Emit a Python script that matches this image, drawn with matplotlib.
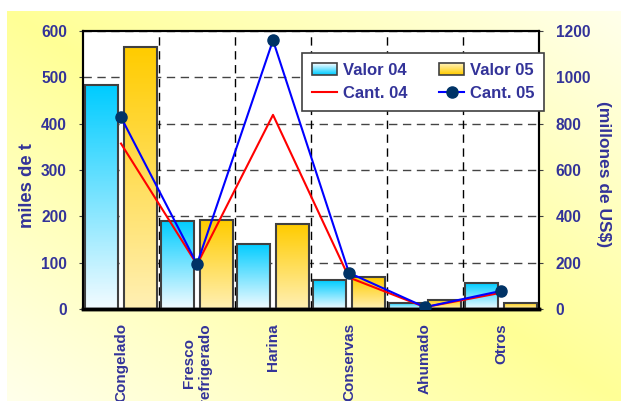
import numpy as np
import matplotlib.pyplot as plt
from matplotlib.colors import LinearSegmentedColormap
from matplotlib.patches import Patch, Rectangle
from matplotlib.lines import Line2D
from matplotlib.legend_handler import HandlerBase

# data
categories = ['Congelado', 'Fresco\nrefrigerado', 'Harina', 'Conservas', 'Ahumado', 'Otros']
valor_04 = [965, 380, 282, 124, 27, 111]     # millones de US$
valor_05 = [1130, 384, 366, 137, 40, 27]
cant_04 = [357, 96, 419, 68, 4, 35]          # miles de t
cant_05 = [414, 97, 580, 78, 4, 39]
left_ticks = [0, 100, 200, 300, 400, 500, 600]
right_ticks = [0, 200, 400, 600, 800, 1000, 1200]

TXT = '#333399'
plt.rcParams['font.family'] = ['Liberation Sans', 'DejaVu Sans']
plt.rcParams['font.weight'] = 'bold'


class GradientHandler(HandlerBase):
    # legend box filled with the same vertical gradient as the bars
    def __init__(self, cmap):
        super().__init__()
        self.cmap = cmap

    def create_artists(self, legend, orig_handle, xdescent, ydescent, width, height, fontsize, trans):
        arts = []
        n = 12
        for i in range(n):
            arts.append(Rectangle((-xdescent, -ydescent + height * i / n), width, height / n,
                                  facecolor=self.cmap(1 - i / (n - 1)), edgecolor='none', transform=trans))
        arts.append(Rectangle((-xdescent, -ydescent), width, height, facecolor='none',
                              edgecolor='#404040', lw=1.2, transform=trans))
        return arts


W, H = 621, 401
fig = plt.figure(figsize=(W / 100, H / 100), dpi=100)

# yellow diagonal gradient background
bg = fig.add_axes([0, 0, 1, 1], zorder=0)
bg.set_xlim(0, W)
bg.set_ylim(0, H)
bg.axis('off')
gx, gy = np.meshgrid(np.linspace(0, 1, 200), np.linspace(0, 1, 200))
t = np.abs(gx - gy)[..., None]
yellow = np.array([255, 255, 150]) / 255
pale = np.array([255, 255, 235]) / 255
bg.imshow(yellow * (1 - t) + pale * t, extent=[7, W, 0, H - 11], aspect='auto', origin='upper')

ax = fig.add_axes([83 / W, 1 - 309 / H, 456 / W, 278 / H])
ax2 = ax.twinx()
ax.set_zorder(3)
ax.patch.set_visible(False)
ax2.set_zorder(2)
ax2.patch.set_visible(True)
ax2.patch.set_facecolor('white')

x = np.arange(len(categories))
bw = 0.44
off = 0.26

cmap04 = LinearSegmentedColormap.from_list('v04', ['#F2FBFF', '#00CCFF'])
cmap05 = LinearSegmentedColormap.from_list('v05', ['#FFF0B4', '#FFCC00'])
grad = np.linspace(1, 0, 100).reshape(-1, 1)

for vals, dx, cm in [(valor_04, -off, cmap04), (valor_05, off, cmap05)]:
    bars = ax2.bar(x + dx, vals, bw, facecolor='none', edgecolor='#404040', linewidth=1.5, zorder=3)
    for b in bars:
        ax2.imshow(grad, cmap=cm, extent=[b.get_x(), b.get_x() + b.get_width(), 0, b.get_height()],
                   aspect='auto', origin='upper', zorder=2, vmin=0, vmax=1)

# grid
for gx_ in x[:-1] + 0.5:
    ax2.axvline(gx_, color='black', lw=1, dashes=(6, 4), zorder=1)
ax2.set_yticks(right_ticks)
ax2.grid(axis='y', color='#444444', lw=1, dashes=(6, 4), zorder=1)
ax2.set_axisbelow(True)

ax.plot(x, cant_04, color='#FF0000', lw=1.5, zorder=4)
ax.plot(x, cant_05, color='#0000FF', lw=1.5, marker='o', ms=8, mfc='#003366', mec='#003366', zorder=5)

ax.set_xlim(-0.5, len(categories) - 0.5)
ax.set_ylim(0, 600)
ax2.set_ylim(0, 1200)
ax.set_yticks(left_ticks)
ax.set_xticks(x)
ax.set_xticklabels(categories, rotation=90, va='top', ha='center', multialignment='center',
                   fontsize=11, color=TXT, fontweight='bold')
ax.tick_params(axis='x', length=0, pad=10)
ax.tick_params(axis='y', length=3, pad=8.5, labelsize=11.2, labelcolor=TXT, color='#404040')
ax2.tick_params(axis='y', length=3, pad=9, labelsize=11.2, labelcolor=TXT, color='#404040')

for a in (ax, ax2):
    for s in a.spines.values():
        s.set_color('black')
        s.set_linewidth(1.5)
    a.spines['bottom'].set_linewidth(2.5)

ax.set_ylabel('miles de t', fontsize=13.3, color=TXT, fontweight='bold', va='center', ha='center')
ax.yaxis.set_label_coords((28 - 83) / 456, 0.444)
ax2.set_ylabel('(millones de US$)', fontsize=12.5, color=TXT, fontweight='bold', rotation=270,
               va='center', ha='center')
ax2.yaxis.set_label_coords((603 - 83) / 456, 0.486)

h_v04 = Patch(facecolor='#8EE3FF')
h_v05 = Patch(facecolor='#FFDD66')
handles = [
    h_v04,
    Line2D([0], [0], color='#FF0000', lw=1.5),
    h_v05,
    Line2D([0], [0], color='#0000FF', lw=1.5, marker='o', ms=8, mfc='#003366', mec='#003366'),
]
labels = ['Valor 04', 'Cant. 04', 'Valor 05', 'Cant. 05']
leg = ax.legend(handles, labels, ncol=2, loc='upper left', bbox_to_anchor=(302 / W, 1 - 53 / H),
                bbox_transform=fig.transFigure, borderaxespad=0, fancybox=False, framealpha=1,
                edgecolor='#404040', prop=dict(weight='bold', size=12), labelcolor=TXT,
                handlelength=1.5, handleheight=0.7, handletextpad=0.35, columnspacing=1.9,
                borderpad=0.6, labelspacing=0.45,
                handler_map={h_v04: GradientHandler(cmap04), h_v05: GradientHandler(cmap05)})
leg.get_frame().set_linewidth(1.2)
leg.set_zorder(10)

fig.savefig('out.png', dpi=100)
